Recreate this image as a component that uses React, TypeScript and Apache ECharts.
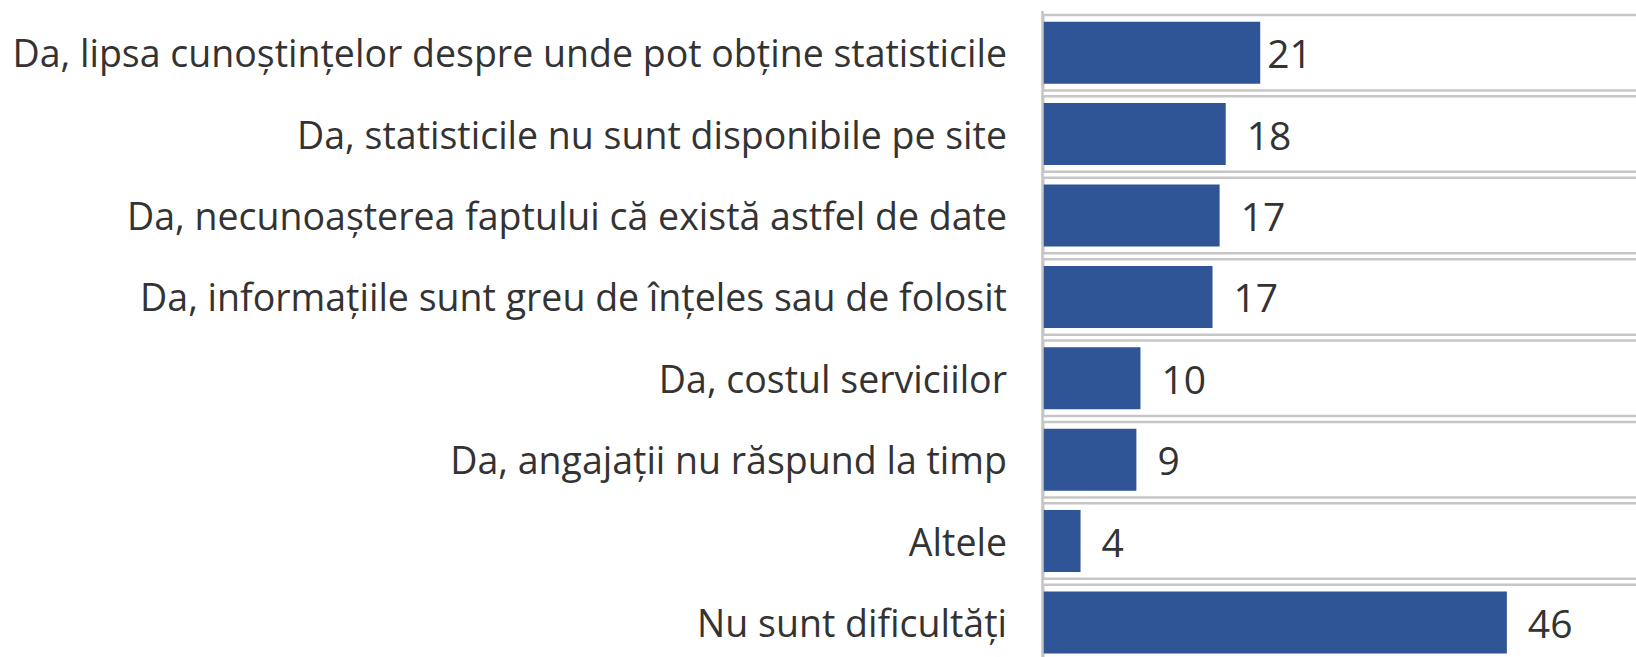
import React, { useEffect, useRef } from "react";
import * as echarts from "echarts";

const categories = [
  "Da, lipsa cunoștințelor despre unde pot obține statisticile",
  "Da, statisticile nu sunt disponibile pe site",
  "Da, necunoașterea faptului că există astfel de date",
  "Da, informațiile sunt greu de înțeles sau de folosit",
  "Da, costul serviciilor",
  "Da, angajații nu răspund la timp",
  "Altele",
  "Nu sunt dificultăți",
];
// bar lengths as drawn in the picture (percent)
const barValues = [21.5, 18.1, 17.5, 16.8, 9.7, 9.3, 3.8, 45.8];
// value labels printed next to the bars
const valueLabels = ["21", "18", "17", "17", "10", "9", "4", "46"];
const axisMax = 100;

export default function App() {
  const ref = useRef<HTMLDivElement>(null);
  useEffect(() => {
    if (!ref.current) return;
    const chart = echarts.init(ref.current, undefined, { renderer: "svg" });
    const font = "'Open Sans', Roboto, sans-serif";
    chart.setOption({
      animation: false,
      grid: { left: 1042, top: 12, bottom: 36.8, right: 43, containLabel: false },
      xAxis: {
        type: "value",
        min: 0,
        max: axisMax,
        show: false,
      },
      yAxis: [
        {
          type: "category",
          data: categories,
          inverse: true,
          axisTick: { show: false },
          axisLine: { show: true, lineStyle: { color: "#c4c4c4", width: 2.5 } },
          axisLabel: {
            margin: 35,
            fontSize: 37.5,
            fontFamily: font,
            color: "#333333",
          },
          splitLine: { show: false },
          z: 5,
        },
        {
          type: "category",
          data: categories,
          inverse: true,
          show: false,
        },
      ],
      series: [
        {
          type: "bar",
          yAxisIndex: 1,
          data: categories.map(() => axisMax),
          barWidth: 78,
          itemStyle: { color: "#ffffff", borderColor: "#c6c6c6", borderWidth: 2.5 },
          silent: true,
          z: 1,
        },
        {
          type: "bar",
          yAxisIndex: 0,
          data: barValues.map((v, i) => ({
            value: v,
            label: { distance: i === 0 ? 7 : 21 },
          })),
          barWidth: 62,
          itemStyle: { color: "#2f5597" },
          z: 3,
          label: {
            show: true,
            position: "right",
            fontSize: 39,
            fontFamily: font,
            color: "#333333",
            formatter: (p: any) => valueLabels[p.dataIndex],
          },
        },
      ],
    });
    return () => chart.dispose();
  }, []);
  return (
    <div
      ref={ref}
      style={{ position: "fixed", left: 0, top: 0, width: 2100, height: 700, background: "#fff" }}
    />
  );
}
